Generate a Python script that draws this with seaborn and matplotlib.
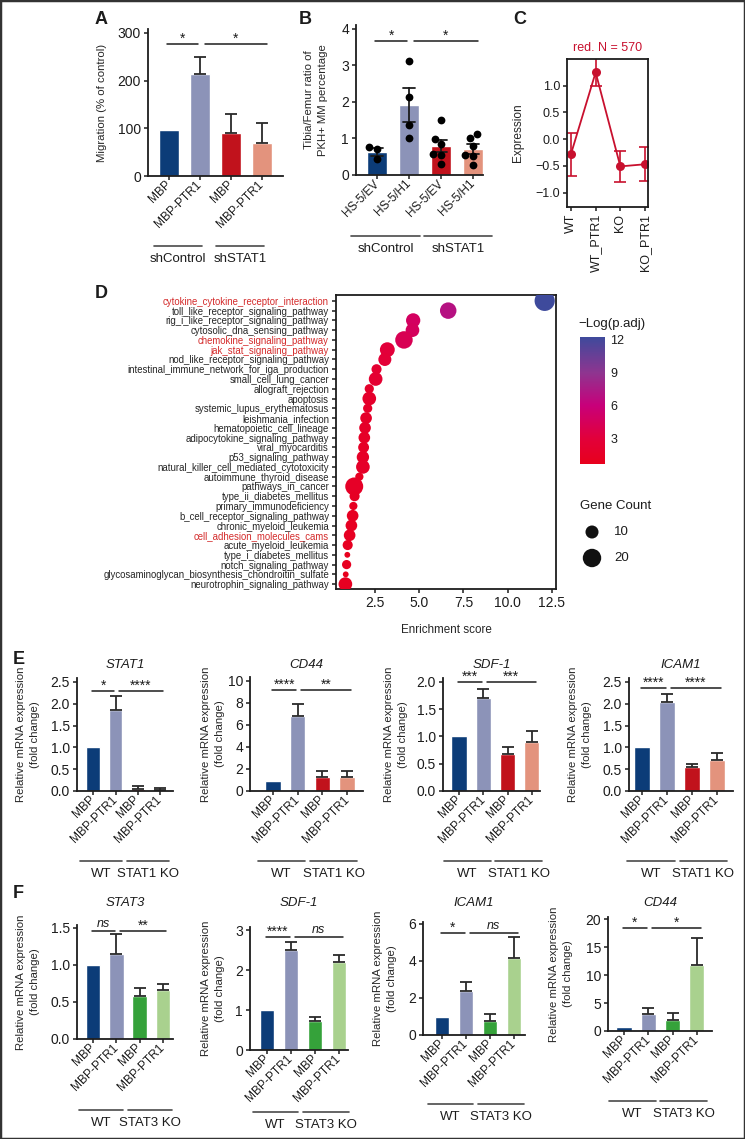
import matplotlib
matplotlib.use("Agg")
import matplotlib.pyplot as plt
import matplotlib.transforms as mtransforms
from matplotlib.cm import ScalarMappable
from matplotlib.colors import LinearSegmentedColormap, Normalize
from matplotlib.patches import Rectangle
import numpy as np
import pandas as pd
import seaborn as sns

W, H = 745, 1139

DARK_BLUE = "#0C3C78"
LAVENDER = "#8C93B8"
RED = "#C1121C"
SALMON = "#E3937D"
GREEN = "#35A23A"
LIGHT_GREEN = "#A9D18E"
LINE_RED = "#C8102E"
INK = "#1c1c1c"

mbp_labels = ["MBP", "MBP-PTR1", "MBP", "MBP-PTR1"]

# A: migration
a_mean = [97, 213, 90, 70]
a_err = [0, 37, 40, 42]

# B: tibia/femur ratio, individual mice
b_labels = ["HS-5/EV", "HS-5/H1", "HS-5/EV", "HS-5/H1"]
b_ev_shcontrol = [0.76, 0.72, 0.43]
b_h1_shcontrol = [3.11, 2.12, 1.38, 1.02]
b_ev_shstat1 = [1.50, 0.99, 0.86, 0.56, 0.58, 0.30]
b_h1_shstat1 = [1.00, 1.12, 0.80, 0.51, 0.56, 0.26]

# C: module expression
c_groups = ["WT", "WT_PTR1", "KO", "KO_PTR1"]
c_mean = [-0.28, 1.25, -0.51, -0.47]
c_low = [-0.69, 1.00, -0.80, -0.78]
c_high = [0.12, 1.56, -0.22, -0.14]

# D: KEGG enrichment
pathways = [
    "cytokine_cytokine_receptor_interaction", "toll_like_receptor_signaling_pathway",
    "rig_i_like_receptor_signaling_pathway", "cytosolic_dna_sensing_pathway",
    "chemokine_signaling_pathway", "jak_stat_signaling_pathway",
    "nod_like_receptor_signaling_pathway", "intestinal_immune_network_for_iga_production",
    "small_cell_lung_cancer", "allograft_rejection", "apoptosis",
    "systemic_lupus_erythematosus", "leishmania_infection", "hematopoietic_cell_lineage",
    "adipocytokine_signaling_pathway", "viral_myocarditis", "p53_signaling_pathway",
    "natural_killer_cell_mediated_cytotoxicity", "autoimmune_thyroid_disease",
    "pathways_in_cancer", "type_ii_diabetes_mellitus", "primary_immunodeficiency",
    "b_cell_receptor_signaling_pathway", "chronic_myeloid_leukemia",
    "cell_adhesion_molecules_cams", "acute_myeloid_leukemia", "type_i_diabetes_mellitus",
    "notch_signaling_pathway", "glycosaminoglycan_biosynthesis_chondroitin_sulfate",
    "neurotrophin_signaling_pathway",
]
highlighted = ["cytokine_cytokine_receptor_interaction", "chemokine_signaling_pathway",
               "jak_stat_signaling_pathway", "cell_adhesion_molecules_cams"]
enrich_score = [12.09, 6.64, 4.66, 4.62, 4.14, 3.20, 3.06, 2.59, 2.54, 2.18, 2.18, 2.09,
                2.00, 1.94, 1.90, 1.86, 1.82, 1.82, 1.62, 1.33, 1.35, 1.28, 1.24, 1.17,
                1.07, 0.96, 0.94, 0.90, 0.85, 0.83]
gene_count = [24, 16, 12, 11, 18, 13, 10, 6, 11, 5, 11, 5, 8, 8, 8, 7, 9, 11, 4, 19,
              6, 4, 8, 8, 8, 6, 2, 5, 2, 11]
neglog_padj = [12.2, 7.0, 4.8, 4.6, 4.2, 3.0, 2.8, 2.3, 2.3, 1.9, 1.9, 1.8, 1.7, 1.7,
               1.6, 1.5, 1.6, 1.7, 1.2, 1.6, 1.3, 1.1, 1.2, 1.2, 1.2, 1.1, 0.8, 1.0,
               0.8, 1.1]

# E: STAT1 KO qPCR (mean, sem)
e_stat1 = [1.00, 1.85, 0.05, 0.03]
e_stat1_err = [0, 0.32, 0.06, 0.05]
e_cd44 = [0.95, 6.85, 1.25, 1.30]
e_cd44_err = [0, 1.05, 0.60, 0.55]
e_sdf1 = [1.00, 1.70, 0.68, 0.90]
e_sdf1_err = [0, 0.17, 0.13, 0.20]
e_icam1 = [1.00, 2.05, 0.55, 0.72]
e_icam1_err = [0, 0.18, 0.07, 0.14]

# F: STAT3 KO qPCR (mean, sem)
f_stat3 = [1.00, 1.15, 0.58, 0.66]
f_stat3_err = [0, 0.27, 0.11, 0.08]
f_sdf1 = [1.00, 2.50, 0.73, 2.20]
f_sdf1_err = [0, 0.20, 0.09, 0.17]
f_icam1 = [0.97, 2.40, 0.78, 4.17]
f_icam1_err = [0, 0.47, 0.34, 1.10]
f_cd44 = [0.80, 3.10, 2.00, 11.90]
f_cd44_err = [0, 1.00, 1.30, 4.70]

STAT1_COLORS = [DARK_BLUE, LAVENDER, RED, SALMON]
STAT3_COLORS = [DARK_BLUE, LAVENDER, GREEN, LIGHT_GREEN]
SIG_SPANS = [(-0.05, 0.95), (1.15, 3.15)]
GROUP_SPANS = [(-0.6, 1.3), (1.5, 3.4)]
MRNA_LABEL = "Relative mRNA expression\n(fold change)"
TICK_SIZE = 10
XTICK_SIZE = 8.6


def px_axes(fig, left, top, right, bottom):
    return fig.add_axes([left / W, 1 - bottom / H, (right - left) / W, (bottom - top) / H])


def minus(s):
    return s.replace("-", "\u2212")


def style_axes(ax, size=TICK_SIZE):
    for side in ["left", "bottom", "top", "right"]:
        ax.spines[side].set_linewidth(1.3)
        ax.spines[side].set_color(INK)
    ax.tick_params(length=3, width=1.1, color=INK, labelsize=size, pad=2)


def set_yticks(ax, ticks, fmt):
    ax.set_yticks(ticks)
    ax.set_yticklabels([minus(fmt.format(t)) for t in ticks])


def set_ylabel(ax, text, x_px, left, right, size=8.2):
    ax.set_ylabel(text, fontsize=size, linespacing=1.4)
    ax.yaxis.set_label_coords((x_px - left) / (right - left), 0.5)
    ax.yaxis.label.set_va("center")


def set_xticklabels(ax, labels):
    ax.set_xticks(range(len(labels)))
    ax.set_xticklabels(labels, rotation=45, ha="right", rotation_mode="anchor",
                       va="center", fontsize=XTICK_SIZE)


def add_sigs(ax, sigs):
    for (x0, x1), (y, text) in zip(SIG_SPANS, sigs):
        ax.plot([x0, x1], [y, y], color=INK, lw=1.1, clip_on=False)
        italic = text == "ns"
        ax.annotate(text, xy=((x0 + x1) / 2, y), xytext=(0, 1 if italic else -1.5),
                    textcoords="offset points", ha="center", va="bottom",
                    fontsize=9 if italic else 10, style="italic" if italic else "normal",
                    annotation_clip=False)


def add_groups(ax, groups, drop_px, height_px, spans=GROUP_SPANS):
    trans = mtransforms.blended_transform_factory(ax.transData, ax.transAxes)
    y = -drop_px / height_px
    ty = -(drop_px + 13) / height_px
    for (x0, x1), name in zip(spans, groups):
        ax.plot([x0, x1], [y, y], transform=trans, color="#4a4a4a", lw=1.2, clip_on=False)
        ax.text((x0 + x1) / 2, ty, name, transform=trans, ha="center", va="center",
                fontsize=9.5)


def bar_panel(fig, box, means, errs, colors, ymax, yticks, fmt, sigs, groups,
              ylabel, ylabel_x, title=None, title_y=None, drop=70, spans=GROUP_SPANS):
    left, top, right, bottom, first, step = box
    ax = px_axes(fig, left, top, right, bottom)
    df = pd.DataFrame({"key": [str(i) for i in range(len(means))], "value": means})
    sns.barplot(data=df, x="key", y="value", hue="key", palette=colors, width=0.62,
                saturation=1, legend=False, errorbar=None, ax=ax)
    idx = [i for i, e in enumerate(errs) if e > 0]
    ax.errorbar(idx, [means[i] for i in idx], yerr=[[0] * len(idx), [errs[i] for i in idx]],
                fmt="none", ecolor="#2a2a2a", elinewidth=1.3, capsize=4, capthick=1.3)
    ax.set_xlim((left - first) / step, (right - first) / step)
    ax.set_ylim(0, ymax)
    style_axes(ax)
    sns.despine(ax=ax)
    set_yticks(ax, yticks, fmt)
    set_xticklabels(ax, mbp_labels)
    ax.set_xlabel("")
    set_ylabel(ax, ylabel, ylabel_x, left, right)
    add_sigs(ax, sigs)
    add_groups(ax, groups, drop, bottom - top, spans)
    if title:
        ax.text(0.5, (bottom - title_y) / (bottom - top), title, transform=ax.transAxes,
                style="italic", fontsize=9.5, ha="center", va="center")
    return ax


def panel_b(fig):
    left, top, right, bottom, first, step = 356, 25, 483, 175, 377, 32
    ax = px_axes(fig, left, top, right, bottom)
    groups = [b_ev_shcontrol, b_h1_shcontrol, b_ev_shstat1, b_h1_shstat1]
    df = pd.DataFrame({
        "key": np.concatenate([[str(i)] * len(g) for i, g in enumerate(groups)]),
        "value": np.concatenate(groups),
    })
    sns.barplot(data=df, x="key", y="value", hue="key", palette=STAT1_COLORS, width=0.62,
                saturation=1, legend=False, errorbar="se", capsize=0.4,
                err_kws={"color": INK, "linewidth": 1.3}, ax=ax)
    sns.swarmplot(data=df, x="key", y="value", color="black", size=5.6, ax=ax)
    ax.set_xlim((left - first) / step, (right - first) / step)
    ax.set_ylim(0, 4.1)
    style_axes(ax)
    sns.despine(ax=ax)
    set_yticks(ax, [0, 1, 2, 3, 4], "{:.0f}")
    set_xticklabels(ax, b_labels)
    ax.set_xlabel("")
    set_ylabel(ax, "Tibia/Femur ratio of\nPKH+ MM percentage", 316, left, right, size=8.2)
    add_sigs(ax, [(3.67, "*"), (3.67, "*")])
    add_groups(ax, ["shControl", "shSTAT1"], 61, bottom - top,
               spans=[(-0.81, 1.34), (1.47, 3.59)])


def panel_c(fig):
    ax = px_axes(fig, 567, 59, 648, 207)
    x = np.arange(len(c_groups))
    mean = np.array(c_mean)
    sns.lineplot(x=x, y=mean, color=LINE_RED, lw=1.3, marker="o", markersize=6.5,
                 markeredgewidth=0, ax=ax)
    ax.errorbar(x, mean, yerr=[mean - np.array(c_low), np.array(c_high) - mean], fmt="none",
                ecolor=LINE_RED, elinewidth=1.2, capsize=4, capthick=1.2)
    ax.set_xlim(-0.16, 3.12)
    ax.set_ylim(-1.27, 1.5)
    style_axes(ax, size=9)
    set_yticks(ax, [-1.0, -0.5, 0.0, 0.5, 1.0], "{:.1f}")
    ax.set_xticks(x)
    ax.set_xticklabels(c_groups, rotation=90)
    set_ylabel(ax, "Expression", 518, 567, 648, size=8.6)
    ax.set_title("red. N = 570", color=LINE_RED, fontsize=9, pad=6)


def panel_d(fig):
    ax = px_axes(fig, 336, 295, 556, 589)
    cmap = LinearSegmentedColormap.from_list("padj", [
        (0.0, "#E8001C"), (0.2, "#E2003A"), (0.46, "#C8007A"),
        (0.72, "#8E3590"), (1.0, "#3E4A9C")])
    norm = Normalize(0.7, 12.24)
    k = 8.8
    df = pd.DataFrame({"score": enrich_score, "row": np.arange(len(pathways)),
                       "count": gene_count, "logp": neglog_padj})
    sns.scatterplot(data=df, x="score", y="row", hue="logp", size="count", palette=cmap,
                    hue_norm=norm, sizes=(k * 1, k * 24), size_norm=(1, 24), linewidth=0,
                    alpha=1, legend=False, ax=ax, zorder=3)
    ax.set_xlim(0.30, 12.73)
    ax.set_ylim(29.5, -0.6)
    style_axes(ax)
    ax.set_yticks(range(len(pathways)))
    ax.set_yticklabels(pathways, fontsize=6.9)
    for lab in ax.get_yticklabels():
        if lab.get_text() in highlighted:
            lab.set_color("#D42B2B")
        else:
            lab.set_color("#262626")
    ax.set_xticks([2.5, 5, 7.5, 10, 12.5])
    ax.set_xticklabels(["2.5", "5.0", "7.5", "10.0", "12.5"])
    ax.set_ylabel("")
    ax.set_xlabel("Enrichment score", fontsize=8.4, labelpad=10)

    cax = px_axes(fig, 580, 337, 605, 464)
    cb = fig.colorbar(ScalarMappable(norm=norm, cmap=cmap), cax=cax)
    cb.outline.set_visible(False)
    cb.set_ticks([3, 6, 9, 12])
    cax.yaxis.set_ticks_position("both")
    cax.tick_params(direction="in", length=5, width=1, color="white", labelsize=9,
                    labelleft=False, labelright=True, pad=4)
    fig.text(578 / W, 1 - 324 / H, "\u2212Log(p.adj)", fontsize=9.5, va="center")

    fig.text(580 / W, 1 - 506 / H, "Gene Count", fontsize=9.5, va="center")
    lax = px_axes(fig, 580, 518, 640, 572)
    leg = pd.DataFrame({"x": [12, 12], "y": [14, 40], "count": [10, 20]})
    sns.scatterplot(data=leg, x="x", y="y", size="count", sizes=(k * 1, k * 24),
                    size_norm=(1, 24), color="#111111", linewidth=0, legend=False, ax=lax)
    lax.set_xlim(0, 60)
    lax.set_ylim(54, 0)
    lax.axis("off")
    for yy, c in zip(leg["y"], leg["count"]):
        lax.text(34, yy, str(c), fontsize=9.5, va="center")


def main():
    sns.set_theme(style="ticks")
    plt.rcParams["font.family"] = ["Liberation Sans", "DejaVu Sans"]
    plt.rcParams["axes.unicode_minus"] = True
    plt.rcParams["text.color"] = INK
    plt.rcParams["xtick.color"] = INK
    plt.rcParams["ytick.color"] = INK
    fig = plt.figure(figsize=(W / 100, H / 100), dpi=100)

    # A
    bar_panel(fig, (148, 29, 283, 176, 169, 31), a_mean, a_err, STAT1_COLORS, 308,
              [0, 100, 200, 300], "{:.0f}", [(277, "*"), (277, "*")],
              ["shControl", "shSTAT1"], "Migration (% of control)", 102,
              drop=70, spans=[(-0.48, 1.06), (1.52, 3.06)])
    panel_b(fig)
    panel_c(fig)
    panel_d(fig)

    # E
    e_specs = [
        ((77, 678, 173, 791, 93.3, 22.2), e_stat1, e_stat1_err, 2.59,
         [0, 0.5, 1.0, 1.5, 2.0, 2.5], "{:.1f}", [(2.29, "*"), (2.29, "****")], "STAT1", 28),
        ((250, 677, 363, 791, 273, 24.7), e_cd44, e_cd44_err, 10.36,
         [0, 2, 4, 6, 8, 10], "{:.0f}", [(9.2, "****"), (9.2, "**")], "CD44", 213),
        ((443, 678, 540, 791, 459, 24.3), e_sdf1, e_sdf1_err, 2.07,
         [0, 0.5, 1.0, 1.5, 2.0], "{:.1f}", [(2.0, "***"), (2.0, "***")], "SDF-1", 396),
        ((629, 678, 733, 791, 642, 25), e_icam1, e_icam1_err, 2.59,
         [0, 0.5, 1.0, 1.5, 2.0, 2.5], "{:.1f}", [(2.36, "****"), (2.36, "****")], "ICAM1", 580),
    ]
    for box, m, e, ymax, ticks, fmt, sigs, title, lx in e_specs:
        bar_panel(fig, box, m, e, STAT1_COLORS, ymax, ticks, fmt, sigs,
                  ["WT", "STAT1 KO"], MRNA_LABEL, lx, title=title, title_y=665, drop=70)

    # F
    f_specs = [
        ((77, 925, 173, 1039, 93, 23.3), f_stat3, f_stat3_err, 1.54,
         [0, 0.5, 1.0, 1.5], "{:.1f}", [(1.46, "ns"), (1.46, "**")], "STAT3", 28, 71),
        ((250, 927, 348, 1050, 267, 24), f_sdf1, f_sdf1_err, 3.08,
         [0, 1, 2, 3], "{:.0f}", [(2.83, "****"), (2.83, "ns")], "SDF-1", 213, 62),
        ((423, 922, 525, 1035, 442, 24), f_icam1, f_icam1_err, 6.1,
         [0, 2, 4, 6], "{:.0f}", [(5.5, "*"), (5.5, "ns")], "ICAM1", 385, 69),
        ((608, 917, 712, 1031, 624, 24.3), f_cd44, f_cd44_err, 20.4,
         [0, 5, 10, 15, 20], "{:.0f}", [(18.4, "*"), (18.4, "*")], "CD44", 561, 70),
    ]
    for box, m, e, ymax, ticks, fmt, sigs, title, lx, drop in f_specs:
        bar_panel(fig, box, m, e, STAT3_COLORS, ymax, ticks, fmt, sigs,
                  ["WT", "STAT3 KO"], MRNA_LABEL, lx, title=title, title_y=903, drop=drop)

    for letter, x, y in [("A", 95, 19), ("B", 299, 19), ("C", 513, 19), ("D", 95, 293),
                         ("E", 13, 660), ("F", 13, 894)]:
        fig.text(x / W, 1 - y / H, letter, fontsize=13, fontweight="bold", va="center")

    fig.add_artist(Rectangle((0, 0), 1, 1, transform=fig.transFigure, fill=False,
                             lw=2.5, ec="#333333"))
    fig.savefig("out.png", dpi=100)


if __name__ == "__main__":
    main()
